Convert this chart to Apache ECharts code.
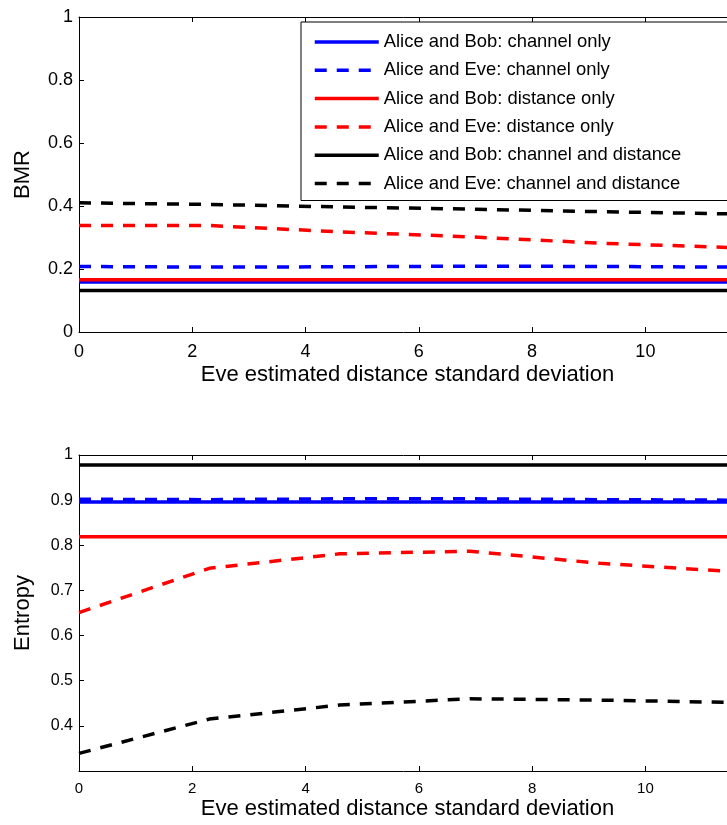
<!DOCTYPE html>
<html>
<head>
<meta charset="utf-8">
<script src="https://cdn.jsdelivr.net/npm/echarts@6/dist/echarts.min.js"></script>
<style>
    html, body { margin: 0; padding: 0; background: #fff; }
    #chart { width: 727px; height: 825px; }
</style>
</head>
<body>
<div id="chart"></div>
<script>
var xVals = [0, 2.3, 4.6, 6.9, 9.2, 11.5];
var xTickStep = 2;
var xMax = 11.6;

var seriesNames = [
    'Alice and Bob: channel only',
    'Alice and Eve: channel only',
    'Alice and Bob: distance only',
    'Alice and Eve: distance only',
    'Alice and Bob: channel and distance',
    'Alice and Eve: channel and distance'
];

// top plot: BMR
var bmrBobChannel = [0.159, 0.159, 0.159, 0.159, 0.159, 0.159];
var bmrEveChannel = [0.208, 0.206, 0.207, 0.209, 0.208, 0.206];
var bmrBobDistance = [0.166, 0.166, 0.166, 0.166, 0.166, 0.166];
var bmrEveDistance = [0.338, 0.338, 0.318, 0.302, 0.282, 0.268];
var bmrBobBoth = [0.132, 0.132, 0.132, 0.132, 0.132, 0.132];
var bmrEveBoth = [0.410, 0.405, 0.397, 0.390, 0.382, 0.375];

// bottom plot: Entropy
var entBobChannel = [0.896, 0.896, 0.896, 0.896, 0.896, 0.896];
var entEveChannel = [0.902, 0.901, 0.903, 0.903, 0.901, 0.900];
var entBobDistance = [0.819, 0.819, 0.819, 0.819, 0.819, 0.819];
var entEveDistance = [0.651, 0.749, 0.781, 0.787, 0.760, 0.742];
var entBobBoth = [0.978, 0.978, 0.978, 0.978, 0.978, 0.978];
var entEveBoth = [0.339, 0.415, 0.446, 0.460, 0.457, 0.452];

var colors = ['#0000ff', '#0000ff', '#ff0000', '#ff0000', '#000000', '#000000'];
var dashed = [false, true, false, true, false, true];
var font = "'Liberation Sans', Arial, Helvetica, sans-serif";

function pairs(ys) {
    return xVals.map(function (x, i) {
        return [x, ys[i]];
    });
}

function makeSeries(list, gridIndex) {
    return list.map(function (ys, i) {
        return {
            name: seriesNames[i],
            type: 'line',
            xAxisIndex: gridIndex * 2,
            yAxisIndex: gridIndex,
            data: pairs(ys),
            symbol: 'none',
            color: colors[i],
            lineStyle: {
                color: colors[i],
                width: 3.5,
                type: dashed[i] ? [12, 10] : 'solid'
            }
        }
    });
}

function xAxes(gridIndex, labelSize, labelMargin, nameGap) {
    var bottom = {
        type: 'value',
        gridIndex: gridIndex,
        position: 'bottom',
        min: 0,
        max: xMax,
        interval: xTickStep,
        name: 'Eve estimated distance standard deviation',
        nameLocation: 'middle',
        nameGap: nameGap,
        nameTextStyle: { fontFamily: font, fontSize: 22, color: '#000' },
        axisLine: { show: true, lineStyle: { color: '#000', width: 1 } },
        axisTick: { inside: true, length: 5, lineStyle: { color: '#000' } },
        axisLabel: { fontFamily: font, fontSize: labelSize, color: '#000', margin: labelMargin, showMaxLabel: false },
        splitLine: { show: false }
    };
    var top = {
        type: 'value',
        gridIndex: gridIndex,
        position: 'top',
        min: 0,
        max: xMax,
        interval: xTickStep,
        axisLine: { show: true, onZero: false, lineStyle: { color: '#000', width: 1 } },
        axisTick: { inside: true, length: 5, lineStyle: { color: '#000' } },
        axisLabel: { show: false },
        splitLine: { show: false }
    };
    return [bottom, top];
}

var myChart = echarts.init(document.getElementById('chart'));
var option = {
    animation: false,
    backgroundColor: '#fff',
    // the right edge of both plots runs past the page, as in the original
    grid: [
        { left: 79, top: 17, width: 657, height: 315, outerBoundsMode: 'none' },
        { left: 79, top: 455, width: 657, height: 316, outerBoundsMode: 'none' }
    ],
    legend: {
        orient: 'vertical',
        left: 301,
        top: 22,
        data: seriesNames,
        padding: [11, 60, 8, 12],
        itemWidth: 64,
        // tiny height keeps the line-series dot hidden under the stroke
        itemHeight: 2,
        itemGap: 10.3,
        lineStyle: { width: 3.5 },
        borderColor: '#000',
        borderWidth: 1,
        backgroundColor: '#fff',
        textStyle: { fontFamily: font, fontSize: 18.4, color: '#000' }
    },
    xAxis: xAxes(0, 18, 11, 32).concat(xAxes(1, 15, 10, 27)),
    yAxis: [{
        type: 'value',
        gridIndex: 0,
        min: 0,
        max: 1,
        interval: 0.2,
        name: 'BMR',
        nameLocation: 'middle',
        nameGap: 45,
        nameTextStyle: { fontFamily: font, fontSize: 22, color: '#000' },
        axisLine: { show: true, lineStyle: { color: '#000', width: 1 } },
        axisTick: { show: true, inside: true, length: 5, lineStyle: { color: '#000' } },
        axisLabel: { fontFamily: font, fontSize: 18, color: '#000', margin: 6 },
        splitLine: { show: false }
    }, {
        type: 'value',
        gridIndex: 1,
        min: 0.3,
        max: 1,
        interval: 0.1,
        name: 'Entropy',
        nameLocation: 'middle',
        nameGap: 45,
        nameTextStyle: { fontFamily: font, fontSize: 22, color: '#000' },
        axisLine: { show: true, lineStyle: { color: '#000', width: 1 } },
        axisTick: { show: true, inside: true, length: 5, lineStyle: { color: '#000' } },
        axisLabel: {
            fontFamily: font,
            fontSize: 16,
            color: '#000',
            margin: 6,
            showMinLabel: false,
            formatter: function (v) {
                return +v.toFixed(1) + '';
            }
        },
        splitLine: { show: false }
    }],
    series: makeSeries([bmrBobChannel, bmrEveChannel, bmrBobDistance, bmrEveDistance, bmrBobBoth, bmrEveBoth], 0)
        .concat(makeSeries([entBobChannel, entEveChannel, entBobDistance, entEveDistance, entBobBoth, entEveBoth], 1))
};
myChart.setOption(option);
</script>
</body>
</html>
